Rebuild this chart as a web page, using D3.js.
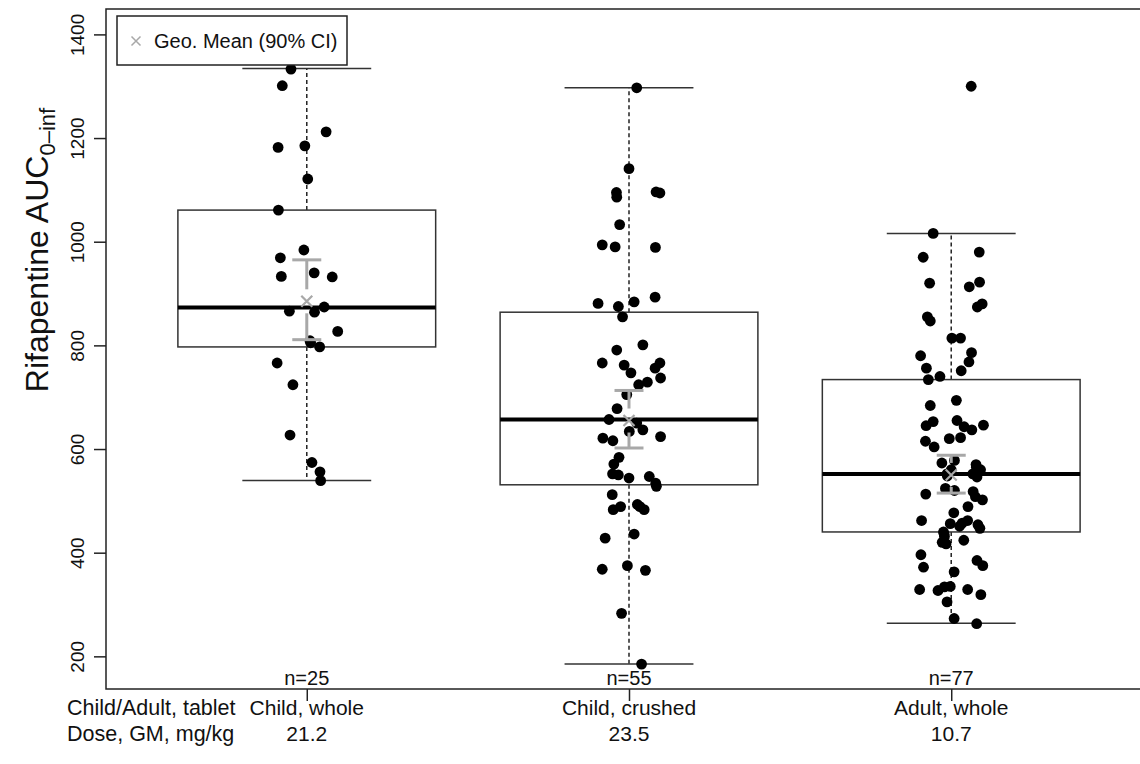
<!DOCTYPE html>
<html><head><meta charset="utf-8">
<script src="https://cdn.jsdelivr.net/npm/d3@7"></script>
<style>
body{margin:0;background:#fff}
svg{display:block}
text{font-family:"Liberation Sans", Arial, Helvetica, sans-serif;fill:#111}
</style>
</head><body><svg id="c" width="1140" height="764"></svg>
<script>
// ---------- data ----------
const groups = ["Child, whole", "Child, crushed", "Adult, whole"];
const doses = ["21.2", "23.5", "10.7"];
const nLabels = ["n=25", "n=55", "n=77"];
const yTicks = [200, 400, 600, 800, 1000, 1200, 1400];
const rowLabels = ["Child/Adult, tablet", "Dose, GM, mg/kg"];
const legendLabel = "Geo. Mean (90% CI)";

const whiskerLo = [539.5, 185, 264];
const q1 = [797, 531, 440];
const median = [873, 657, 552];
const q3 = [1061, 864, 734];
const whiskerHi = [1334, 1297, 1016];
const geoMean = [885, 655, 550];
const ciLo = [811, 602, 515];
const ciHi = [965, 713, 588];

// group 1: Child, whole
const g1Values = [1333,1301,1212,1182,1185,1121,1061,984,969,933,940,932,866,864,874,827,805,797,766,724,627,574,556,539,809];
const g1Jitter = [-0.049,-0.076,0.060,-0.089,-0.006,0.003,-0.088,-0.009,-0.082,-0.079,0.023,0.079,-0.054,0.024,0.054,0.096,0.012,0.040,-0.092,-0.043,-0.052,0.016,0.041,0.043,0.010];
// group 2: Child, crushed
const g2Values = [1297,1141,1095,1086,1096,1094,1033,994,990,989,893,881,875,884,855,801,791,766,762,766,756,747,737,724,729,705,678,657,650,637,634,624,621,616,584,571,552,550,544,547,534,528,512,489,483,493,483,428,436,368,375,366,283,185,489];
const g2Jitter = [0.024,0.000,-0.039,-0.038,0.084,0.096,-0.029,-0.083,-0.043,0.082,0.081,-0.096,-0.033,0.016,-0.020,0.043,-0.038,-0.083,-0.015,0.096,0.081,0.006,0.098,0.030,0.057,-0.007,-0.037,-0.062,0.024,0.043,0.001,0.098,-0.081,-0.050,-0.031,-0.047,-0.051,-0.033,0.000,0.063,0.083,0.085,-0.052,-0.026,-0.049,0.026,0.047,-0.074,0.016,-0.083,-0.005,0.051,-0.023,0.039,0.034];
// group 3: Adult, whole
const g3Values = [1300,1016,980,970,920,922,913,880,874,855,847,814,814,780,786,756,768,751,740,734,694,684,653,645,655,643,637,646,615,604,620,622,573,578,570,560,552,552,524,520,513,518,502,489,477,462,462,456,451,454,447,440,431,420,417,424,396,372,385,375,363,329,327,334,335,329,319,305,273,263,508,565,457,546,548,436,560];
const g3Jitter = [0.062,-0.056,0.087,-0.087,-0.067,0.088,0.056,0.096,0.081,-0.074,-0.065,0.002,0.029,-0.095,0.063,-0.077,0.055,0.031,-0.035,-0.071,0.016,-0.065,-0.056,-0.078,0.018,0.040,0.064,0.100,-0.080,-0.053,-0.006,0.029,-0.029,0.010,0.077,0.091,0.067,-0.013,-0.018,0.010,-0.079,0.068,0.097,0.052,0.008,-0.092,0.051,-0.003,0.026,0.083,0.089,-0.024,-0.021,-0.028,-0.016,0.039,-0.094,-0.086,0.080,0.098,0.009,-0.098,-0.041,-0.021,-0.003,0.051,0.092,-0.013,0.009,0.079,0.075,0.078,0.034,0.080,-0.012,-0.022,0.000];

const allValues = [g1Values, g2Values, g3Values];
const allJitter = [g1Jitter, g2Jitter, g3Jitter];

// ---------- layout ----------
const svg = d3.select("#c");
const pLeft = 106, pTop = 9, pBottom = 689, pRight = 1151;
const x = d3.scaleLinear().domain([0.38, 3.62]).range([107, 1151]);
const y = d3.scaleLinear().domain([137, 1449]).range([pBottom, pTop]);
const boxHalf = 0.4, capHalf = 0.2;

const plot = svg.append("g");

groups.forEach((gName, i) => {
  const c = i + 1;
  const g = plot.append("g");
  g.append("line").attr("x1", x(c)).attr("x2", x(c)).attr("y1", y(q3[i])).attr("y2", y(whiskerHi[i]))
    .attr("stroke", "#222").attr("stroke-width", 1.5).attr("stroke-dasharray", "4,3");
  g.append("line").attr("x1", x(c)).attr("x2", x(c)).attr("y1", y(q1[i])).attr("y2", y(whiskerLo[i]))
    .attr("stroke", "#222").attr("stroke-width", 1.5).attr("stroke-dasharray", "4,3");
  [whiskerHi[i], whiskerLo[i]].forEach(v => {
    g.append("line").attr("x1", x(c - capHalf)).attr("x2", x(c + capHalf)).attr("y1", y(v)).attr("y2", y(v))
      .attr("stroke", "#333").attr("stroke-width", 1.5);
  });
  g.append("rect").attr("x", x(c - boxHalf)).attr("width", x(c + boxHalf) - x(c - boxHalf))
    .attr("y", y(q3[i])).attr("height", y(q1[i]) - y(q3[i]))
    .attr("fill", "#fff").attr("stroke", "#333").attr("stroke-width", 1.5);
  g.append("line").attr("x1", x(c - boxHalf)).attr("x2", x(c + boxHalf)).attr("y1", y(median[i])).attr("y2", y(median[i]))
    .attr("stroke", "#000").attr("stroke-width", 4);
  g.selectAll("circle").data(allValues[i].map((v, k) => ({v, j: allJitter[i][k]})))
    .join("circle")
    .attr("cx", d => x(c + d.j)).attr("cy", d => y(d.v)).attr("r", 5.4).attr("fill", "#000");
  const gray = "#a8a8a8", gap = 12;
  const ym = y(geoMean[i]);
  const yh = y(ciHi[i]), yl = y(ciLo[i]);
  if (ym - gap > yh) g.append("line").attr("x1", x(c)).attr("x2", x(c)).attr("y1", yh).attr("y2", ym - gap).attr("stroke", gray).attr("stroke-width", 3);
  if (ym + gap < yl) g.append("line").attr("x1", x(c)).attr("x2", x(c)).attr("y1", ym + gap).attr("y2", yl).attr("stroke", gray).attr("stroke-width", 3);
  [yh, yl].forEach(yy => g.append("line").attr("x1", x(c) - 14.5).attr("x2", x(c) + 14.5).attr("y1", yy).attr("y2", yy).attr("stroke", gray).attr("stroke-width", 3));
  const s = 5.5;
  g.append("path").attr("d", `M${x(c)-s},${ym-s}L${x(c)+s},${ym+s}M${x(c)-s},${ym+s}L${x(c)+s},${ym-s}`)
    .attr("stroke", gray).attr("stroke-width", 2.2).attr("fill", "none");
  svg.append("text").attr("x", x(c)).attr("y", 685).attr("text-anchor", "middle").attr("font-size", 20).text(nLabels[i]);
  svg.append("text").attr("x", x(c)).attr("y", 715).attr("text-anchor", "middle").attr("font-size", 21).text(gName);
  svg.append("text").attr("x", x(c)).attr("y", 741).attr("text-anchor", "middle").attr("font-size", 21).text(doses[i]);
});

svg.append("rect").attr("x", pLeft).attr("y", pTop).attr("width", pRight - pLeft).attr("height", pBottom - pTop)
  .attr("fill", "none").attr("stroke", "#222").attr("stroke-width", 1.5);

const yAxis = svg.append("g").attr("transform", `translate(${pLeft},0)`)
  .call(d3.axisLeft(y).tickValues(yTicks).tickSize(12).tickSizeOuter(0).tickFormat(d3.format("d")));
yAxis.select(".domain").remove();
yAxis.selectAll(".tick line").attr("stroke", "#222").attr("stroke-width", 1.5);
yAxis.selectAll(".tick text").attr("x", null).attr("dy", null).attr("text-anchor", "middle")
  .attr("transform", "translate(-22,0) rotate(-90)").attr("font-size", 19).attr("fill", "#111");
yAxis.attr("font-family", null).attr("font-size", null);

const xAxis = svg.append("g").attr("transform", `translate(0,${pBottom})`)
  .call(d3.axisBottom(x).tickValues([1, 2, 3]).tickSize(12).tickSizeOuter(0).tickFormat(""));
xAxis.select(".domain").remove();
xAxis.selectAll(".tick line").attr("stroke", "#222").attr("stroke-width", 1.5);

svg.append("text").attr("x", 67).attr("y", 715).attr("font-size", 21.5).text(rowLabels[0]);
svg.append("text").attr("x", 67).attr("y", 741).attr("font-size", 21.5).text(rowLabels[1]);

const yt = svg.append("text").attr("transform", "translate(48,250) rotate(-90)").attr("text-anchor", "middle").attr("font-size", 32);
yt.append("tspan").text("Rifapentine AUC");
yt.append("tspan").attr("font-size", 22).attr("dy", 7).text("0\u2013inf");

svg.append("rect").attr("x", 117).attr("y", 16).attr("width", 230).attr("height", 49)
  .attr("fill", "#fff").attr("stroke", "#222").attr("stroke-width", 1.5);
const lx = 136, ly = 41, ls = 4.5;
svg.append("path").attr("d", `M${lx-ls},${ly-ls}L${lx+ls},${ly+ls}M${lx-ls},${ly+ls}L${lx+ls},${ly-ls}`)
  .attr("stroke", "#a8a8a8").attr("stroke-width", 1.5);
svg.append("text").attr("x", 154).attr("y", 48).attr("font-size", 20).text(legendLabel);
</script>
</body></html>
